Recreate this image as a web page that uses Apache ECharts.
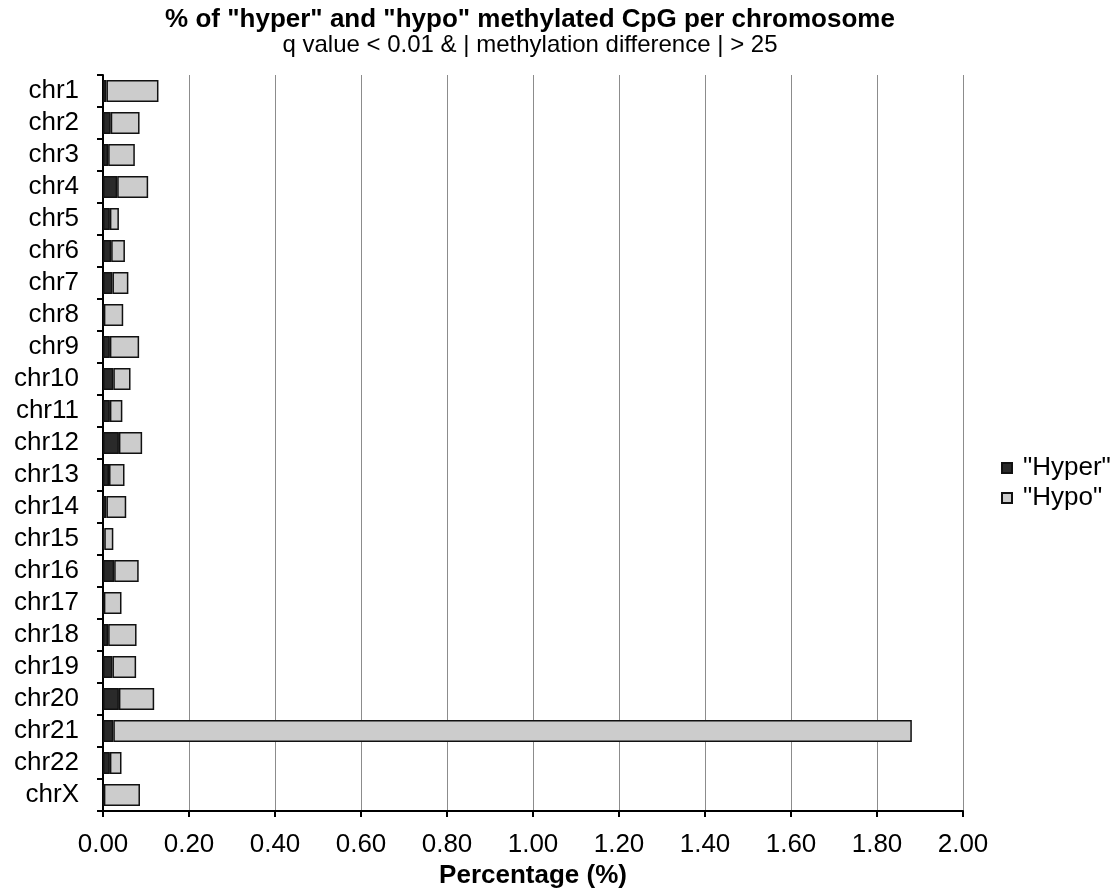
<!DOCTYPE html>
<html style="height: 100%">
<head>
<meta charset="utf-8">
<script src="https://cdn.jsdelivr.net/npm/echarts@6/dist/echarts.min.js"></script>
</head>
<body style="height: 100%; margin: 0; background: #fff">
<div id="container" style="width: 1116px; height: 889px"></div>
<script type="text/javascript">
const chromosomes = ['chr1','chr2','chr3','chr4','chr5','chr6','chr7','chr8','chr9','chr10','chr11','chr12',
  'chr13','chr14','chr15','chr16','chr17','chr18','chr19','chr20','chr21','chr22','chrX'];
const hyper = [0.008,0.018,0.012,0.033,0.016,0.019,0.022,0.002,0.016,0.024,0.016,0.037,
  0.014,0.008,0.003,0.026,0.002,0.012,0.022,0.037,0.024,0.016,0.002];
const hypo = [0.121,0.067,0.062,0.072,0.021,0.032,0.037,0.045,0.068,0.040,0.029,0.054,
  0.036,0.046,0.021,0.057,0.041,0.066,0.055,0.082,1.857,0.027,0.084];
const xTicks = [0, 0.2, 0.4, 0.6, 0.8, 1.0, 1.2, 1.4, 1.6, 1.8, 2.0];

const font = 'Liberation Sans, Arial, sans-serif';
const myChart = echarts.init(document.getElementById('container'));

const option = {
    backgroundColor: '#fff',
    animation: false,
    title: [
        {
            text: '% of "hyper" and "hypo" methylated CpG per chromosome',
            left: 530, textAlign: 'center', top: 7, padding: 0,
            textStyle: { fontFamily: font, fontSize: 26, lineHeight: 26, fontWeight: 'bold', color: '#000' }
        },
        {
            text: 'q value < 0.01 & | methylation difference | > 25',
            left: 530, textAlign: 'center', top: 33, padding: 0,
            textStyle: { fontFamily: font, fontSize: 24, lineHeight: 24, fontWeight: 'normal', color: '#000' }
        }
    ],
    legend: {
        orient: 'vertical',
        left: 1001,
        top: 455,
        padding: 0,
        icon: 'rect',
        itemWidth: 10,
        itemHeight: 10,
        itemGap: 4,
        data: ['"Hyper"', '"Hypo"'],
        textStyle: { fontFamily: font, fontSize: 26, lineHeight: 26, color: '#000', padding: [0, 0, 0, 6] }
    },
    grid: { left: 103, right: 153, top: 75, bottom: 78, outerBoundsMode: 'none', containLabel: false },
    xAxis: {
        type: 'value',
        min: xTicks[0],
        max: xTicks[xTicks.length - 1],
        interval: 0.2,
        name: 'Percentage (%)',
        nameLocation: 'middle',
        nameGap: 52,
        nameTextStyle: { fontFamily: font, fontSize: 26, fontWeight: 'bold', color: '#000' },
        axisLine: { show: true, lineStyle: { color: '#000', width: 2 } },
        axisTick: { show: true, length: 6, lineStyle: { color: '#000', width: 2 } },
        axisLabel: { fontFamily: font, fontSize: 26, color: '#000', margin: 21, formatter: v => v.toFixed(2) },
        splitLine: { show: true, lineStyle: { color: '#8c8c8c', width: 1 } }
    },
    yAxis: {
        type: 'category',
        inverse: true,
        data: chromosomes,
        axisLine: { show: true, lineStyle: { color: '#000', width: 2 } },
        axisTick: { show: true, interval: 0, length: 6, lineStyle: { color: '#000', width: 2 } },
        axisLabel: { interval: 0, fontFamily: font, fontSize: 26, color: '#000', margin: 24 }
    },
    series: [
        {
            name: '"Hyper"',
            type: 'bar',
            stack: 'total',
            barCategoryGap: '32%',
            data: hyper,
            itemStyle: { color: '#2a2a2a', borderColor: '#111', borderWidth: 1.5 }
        },
        {
            name: '"Hypo"',
            type: 'bar',
            stack: 'total',
            barCategoryGap: '32%',
            data: hypo,
            itemStyle: { color: '#cccccc', borderColor: '#111', borderWidth: 1.5 }
        }
    ]
};

myChart.setOption(option, true);
</script>
</body>
</html>
